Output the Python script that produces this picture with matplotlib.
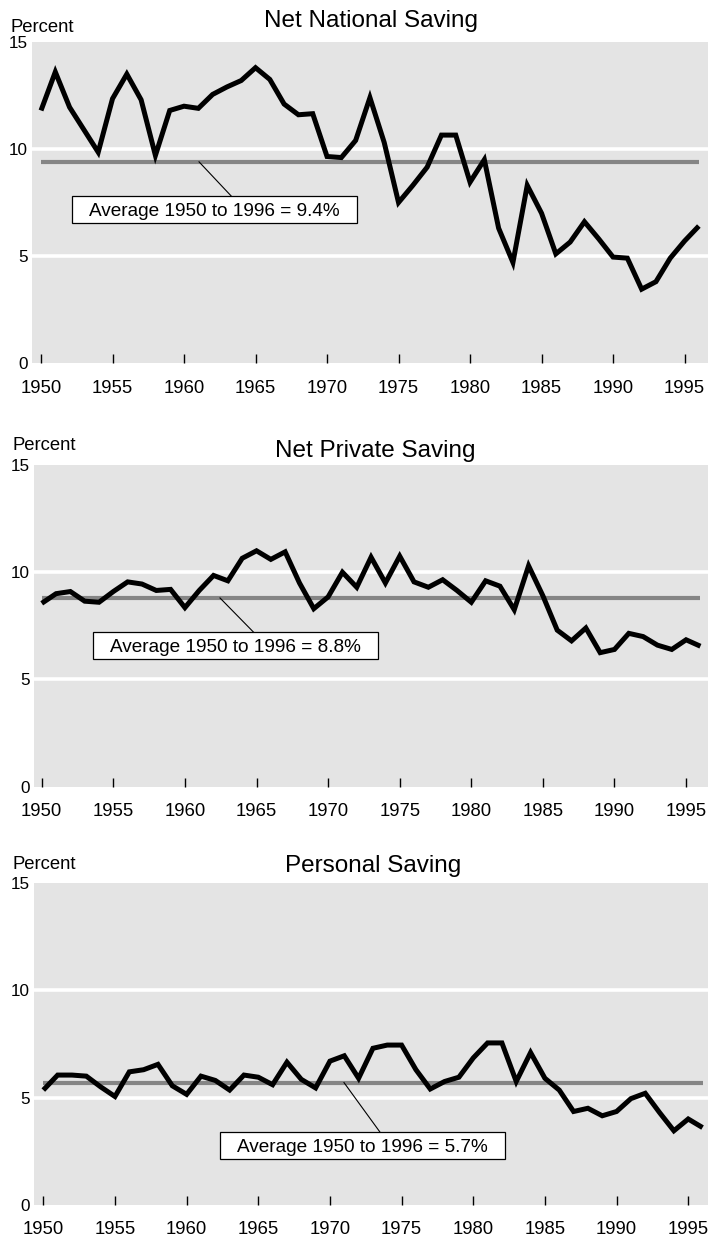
# Saving rates 1950-1996, three stacked panels
import matplotlib
matplotlib.use('Agg')
import matplotlib.pyplot as plt
from matplotlib.patches import Rectangle
from matplotlib.transforms import ScaledTranslation

plt.rcParams['font.family'] = ['Liberation Sans', 'DejaVu Sans']

# Data (percent)
years = list(range(1950, 1997))

national = [11.8, 13.6, 11.95, 10.9, 9.85, 12.35, 13.5, 12.3, 9.7, 11.8,
            12.0, 11.9, 12.55, 12.9, 13.2, 13.8, 13.25, 12.1, 11.6, 11.65,
            9.65, 9.6, 10.4, 12.4, 10.3, 7.5, 8.3, 9.15, 10.65, 10.65,
            8.45, 9.5, 6.3, 4.7, 8.3, 7.0, 5.1, 5.65, 6.6, 5.8,
            4.95, 4.9, 3.45, 3.8, 4.9, 5.7, 6.4]

private = [8.55, 9.0, 9.1, 8.65, 8.6, 9.1, 9.55, 9.45, 9.15, 9.2,
           8.35, 9.15, 9.85, 9.6, 10.65, 11.0, 10.6, 10.95, 9.5, 8.3,
           8.85, 10.0, 9.3, 10.7, 9.5, 10.75, 9.55, 9.3, 9.65, 9.15,
           8.6, 9.6, 9.35, 8.25, 10.3, 8.9, 7.3, 6.8, 7.4, 6.25,
           6.4, 7.15, 7.0, 6.6, 6.4, 6.85, 6.55]

personal = [5.35, 6.05, 6.05, 6.0, 5.5, 5.05, 6.2, 6.3, 6.55, 5.55,
            5.15, 6.0, 5.8, 5.35, 6.05, 5.95, 5.6, 6.65, 5.85, 5.45,
            6.7, 6.95, 5.9, 7.3, 7.45, 7.45, 6.3, 5.4, 5.75, 5.95,
            6.85, 7.55, 7.55, 5.75, 7.1, 5.9, 5.35, 4.35, 4.5, 4.15,
            4.35, 4.95, 5.2, 4.3, 3.45, 4.0, 3.6]

titles = ['Net National Saving', 'Net Private Saving', 'Personal Saving']
series = [national, private, personal]
averages = [9.4, 8.8, 5.7]

x_ticks = [1950, 1955, 1960, 1965, 1970, 1975, 1980, 1985, 1990, 1995]
y_ticks = [0, 5, 10, 15]

# Layout in pixels of the 708x1238 picture
W, H = 708, 1238
panels = [
    dict(rect=(32, 42, 708, 363), xlim=(1949.37, 1996.64),
         title_xy=(371, 26.7), pct_xy=(10, 31.5),
         leader=((1961.05, 9.4), (1963.36, 7.76)), box=(1962.1, 7.15)),
    dict(rect=(34, 465, 708, 786.7), xlim=(1949.46, 1996.53),
         title_xy=(375, 456.7), pct_xy=(12, 450),
         leader=((1962.45, 8.8), (1964.8, 7.2)), box=(1963.55, 6.59)),
    dict(rect=(34, 883.3, 708, 1204.7), xlim=(1949.35, 1996.38),
         title_xy=(373, 871.7), pct_xy=(12, 869),
         leader=((1970.98, 5.7), (1973.5, 3.38)), box=(1972.27, 2.76)),
]

BG = '#e4e4e4'
AVG_COLOR = '#858585'

fig = plt.figure(figsize=(W / 100, H / 100), dpi=100)

for title, values, avg, p in zip(titles, series, averages, panels):
    left, top, right, bottom = p['rect']
    ax = fig.add_axes([left / W, 1 - bottom / H, (right - left) / W, (bottom - top) / H])
    ax.set_facecolor(BG)
    for s in ax.spines.values():
        s.set_visible(False)

    # white gridlines at 5 and 10
    for g in [5, 10]:
        ax.axhline(g, color='white', lw=2.6, zorder=1)

    # average line and the data line
    ax.plot([years[0], years[-1]], [avg, avg], color=AVG_COLOR, lw=3.0,
            solid_capstyle='butt', zorder=2)
    ax.plot(years, values, color='black', lw=3.6, solid_joinstyle='miter',
            solid_capstyle='butt', zorder=4)

    # leader line and label box
    (x0, y0), (x1, y1) = p['leader']
    ax.plot([x0, x1], [y0, y1], color='black', lw=0.8, zorder=3)
    bx, by = p['box']
    trans = fig.dpi_scale_trans + ScaledTranslation(bx, by, ax.transData)
    ax.add_patch(Rectangle((-1.425, -0.135), 2.85, 0.27, transform=trans,
                           facecolor='white', edgecolor='black', lw=0.9, zorder=5))
    ax.text(bx, by, f'Average 1950 to 1996 = {avg}%', ha='center', va='center_baseline',
            fontsize=13.7, zorder=6)

    ax.set_xlim(*p['xlim'])
    ax.set_ylim(0, 15)
    ax.set_xticks(x_ticks)
    ax.set_xticklabels([str(t) for t in x_ticks])
    ax.set_yticks(y_ticks)
    ax.set_yticklabels([str(t) for t in y_ticks])
    ax.tick_params(axis='x', direction='in', length=6.5, width=1.0, color='black',
                   labelsize=13.3, pad=12)
    ax.tick_params(axis='y', length=0, labelsize=12.3, pad=3)

    fig.text(p['title_xy'][0] / W, 1 - p['title_xy'][1] / H, title,
             ha='center', va='baseline', fontsize=17.5)
    fig.text(p['pct_xy'][0] / W, 1 - p['pct_xy'][1] / H, 'Percent',
             ha='left', va='baseline', fontsize=13.3)

fig.savefig('out.png', dpi=100)
